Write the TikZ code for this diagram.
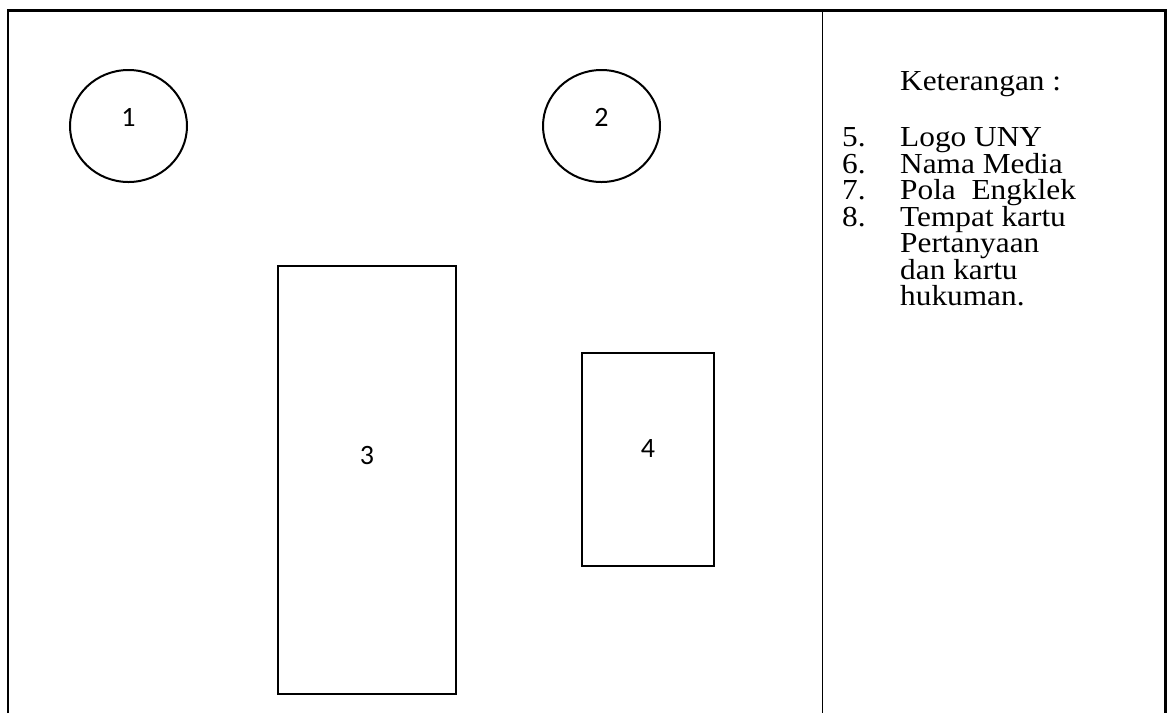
\documentclass[tikz,border=0pt]{standalone}
\usepackage{graphicx}
\usepackage{fontspec}
\setmainfont{Liberation Serif}
\newfontfamily\numfont{Carlito}
\usetikzlibrary{shapes.geometric}

% legend text is set a little wider than tall
\newcommand{\widetext}[1]{\scalebox{1.08}[1]{#1}}

\tikzset{
  frame/.style={line width=2.4pt},
  divider/.style={line width=1pt},
  disc/.style={draw, ellipse, line width=2pt, minimum width=117pt, minimum height=112pt, inner sep=0pt},
  slot/.style={draw, rectangle, line width=2pt, inner sep=0pt},
  tag/.style={font=\numfont\fontsize{28}{28}\selectfont, inner sep=0pt},
  note/.style={font=\fontsize{29}{29}\selectfont, inner sep=0pt, anchor=base west}
}

\begin{document}
\begin{tikzpicture}[x=1pt, y=-1pt]
\useasboundingbox (0,0) rectangle (1172,713);

% Outer frame (open at the bottom) and the legend divider
\coordinate (tl) at (8,10.5);
\coordinate (tr) at (1165.5,10.5);
\coordinate (bl) at (8,713);
\coordinate (br) at (1165.5,713);
\coordinate (dtop) at (822.5,10.5);
\coordinate (dbot) at (822.5,713);
\draw[frame] (bl) -- (tl) -- (tr) -- (br);
\draw[divider] (dtop) -- (dbot);

% Two round spots
\node[disc] (logo) at (128.5,126) {};
\node[disc] (title) at (601.5,126) {};
\node[tag] at ([yshift=9pt]logo.center) {1};
\node[tag] at ([yshift=9pt]title.center) {2};

% Board and card holder
\node[slot, minimum width=178pt, minimum height=428pt] (board) at (367,480) {};
\node[slot, minimum width=132pt, minimum height=213pt] (cards) at (648,459) {};
\node[tag] at ([yshift=24pt]board.center) {3};
\node[tag] at ([yshift=10pt]cards.center) {4};

% Legend
\node[note] (head) at (900,90) {\widetext{Keterangan :}};
\foreach \n/\txt/\y in {5./Logo UNY/146, 6./Nama Media/173, 7./Pola\ \ Engklek/199,
    8./Tempat kartu/226, /Pertanyaan/252, /dan kartu/279, /hukuman./305} {
  \node[note] (num\y) at (842,\y) {\widetext{\n}};
  \node[note] (item\y) at (900,\y) {\widetext{\txt}};
}
\end{tikzpicture}
\end{document}
